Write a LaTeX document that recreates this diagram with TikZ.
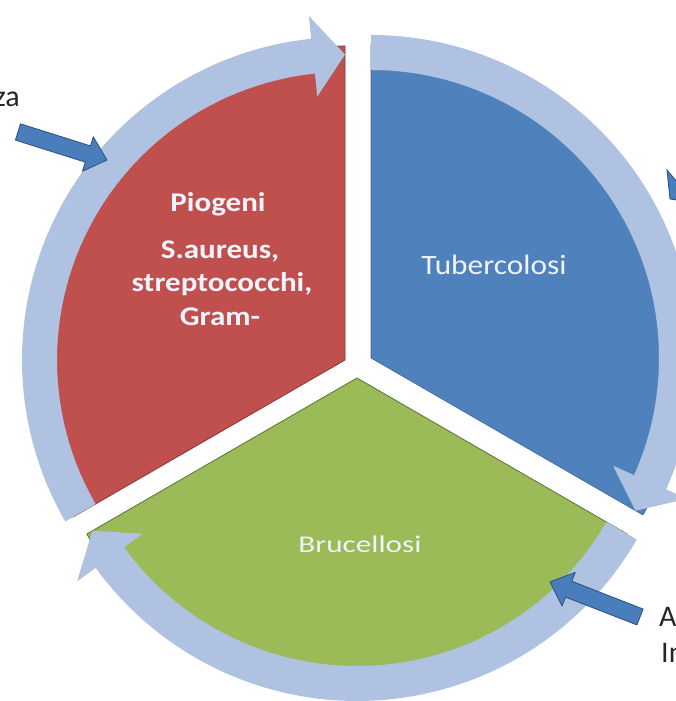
\documentclass[tikz,border=0pt]{standalone}
\usepackage{fontspec}
\usepackage{graphicx}
\setmainfont{Carlito}
\usetikzlibrary{calc}
\definecolor{secred}{HTML}{C0504D}
\definecolor{secblue}{HTML}{4F81BD}
\definecolor{secgreen}{HTML}{9BBB59}
\definecolor{ringc}{HTML}{B0C2E2}
\definecolor{ptrfill}{HTML}{4A7DBB}
\definecolor{ptrdraw}{HTML}{2F5587}
\definecolor{txtlight}{HTML}{EEF3FC}
\definecolor{sidetxt}{HTML}{262626}
\tikzset{
  ringarrow/.style={fill=ringc},
  pointer/.style={fill=ptrfill, draw=ptrdraw, line width=0.9pt, line join=round},
  secttext/.style={text=txtlight, inner sep=0pt},
  sidelabel/.style={text=sidetxt, inner sep=0pt, font=\fontsize{30}{36}\selectfont}
}
\begin{document}
\begin{tikzpicture}[x=1pt,y=1pt]
\useasboundingbox (0,0) rectangle (676,701);
\clip (0,0) rectangle (676,701);
\coordinate (R) at (345,341);
\coordinate (B) at (371,343);
\coordinate (G) at (357,323);
% sectors
\filldraw[fill=secred, draw=secred!70!black, line width=0.8pt]
  (R) -- ++(90:314) arc[start angle=90,end angle=210,radius=314] -- cycle;
\filldraw[fill=secblue, draw=secblue!80!black, line width=0.6pt]
  (B) -- ++(-30:314) arc[start angle=-30,end angle=90,radius=314] -- cycle;
\filldraw[fill=secgreen, draw=secgreen!60!black, line width=0.8pt]
  (G) -- ++(210:312) arc[start angle=210,end angle=330,radius=312] -- cycle;
% ring arrows
\begin{scope}[shift={(R)}]
\fill[ringarrow] (210:323) arc[start angle=210,end angle=96,radius=323]
  -- (96:346) -- (90:305.5) -- (96:265) -- (96:288)
  arc[start angle=96,end angle=210,radius=288] -- cycle;
\end{scope}
\begin{scope}[shift={(B)}]
\fill[ringarrow] (90:323) arc[start angle=90,end angle=-24,radius=323]
  -- (-24:346) -- (-30:305.5) -- (-24:265) -- (-24:288)
  arc[start angle=-24,end angle=90,radius=288] -- cycle;
\end{scope}
\begin{scope}[shift={(G)}]
\fill[ringarrow] (330:323) arc[start angle=330,end angle=216,radius=323]
  -- (216:346) -- (210:305.5) -- (216:265) -- (216:288)
  arc[start angle=216,end angle=330,radius=288] -- cycle;
\end{scope}
% sector texts
\node[secttext, anchor=base] (piog) at (218,489) {\scalebox{1.15}[1]{\fontsize{27}{32}\selectfont\bfseries Piogeni}};
\node[secttext, anchor=base] (saur) at (220,442) {\scalebox{1.15}[1]{\fontsize{27}{32}\selectfont\bfseries S.aureus,}};
\node[secttext, anchor=base] (strep) at (222,409) {\scalebox{1.15}[1]{\fontsize{27}{32}\selectfont\bfseries streptococchi,}};
\node[secttext, anchor=base] (gram) at (220,375) {\scalebox{1.15}[1]{\fontsize{27}{32}\selectfont\bfseries Gram-}};
\node[secttext, anchor=base] (tbc) at (494,426) {\scalebox{1.12}[1]{\fontsize{28}{33}\selectfont Tubercolosi}};
\node[secttext, anchor=base] (bruc) at (360,148) {\scalebox{1.3}[1]{\fontsize{24}{29}\selectfont Brucellosi}};
% side labels (cut by the frame)
\node[sidelabel, anchor=base east] (za) at (20,594) {za};
\node[sidelabel, anchor=base west] (la) at (659,74) {A};
\node[sidelabel, anchor=base west] (lin) at (661,38) {In};
% pointer arrows
\coordinate (p1t) at (18,569);
\coordinate (p1h) at (107,541);
\begin{scope}[shift={(p1t)}, rotate=-17.5]
\draw[pointer] (0,8.5) -- (73.3,8.5) -- (73.3,18) -- (93.3,0) -- (73.3,-18) -- (73.3,-8.5) -- (0,-8.5) -- cycle;
\end{scope}
\coordinate (p2t) at (640,84);
\coordinate (p2h) at (550,119);
\begin{scope}[shift={(p2t)}, rotate=158.7]
\draw[pointer] (0,8.5) -- (76.6,8.5) -- (76.6,18) -- (96.6,0) -- (76.6,-18) -- (76.6,-8.5) -- (0,-8.5) -- cycle;
\end{scope}
\fill[ptrfill, draw=ptrdraw, line width=0.9pt] (667,531) -- (677,519) -- (677,501) -- (670,502) -- cycle;
\end{tikzpicture}
\end{document}
